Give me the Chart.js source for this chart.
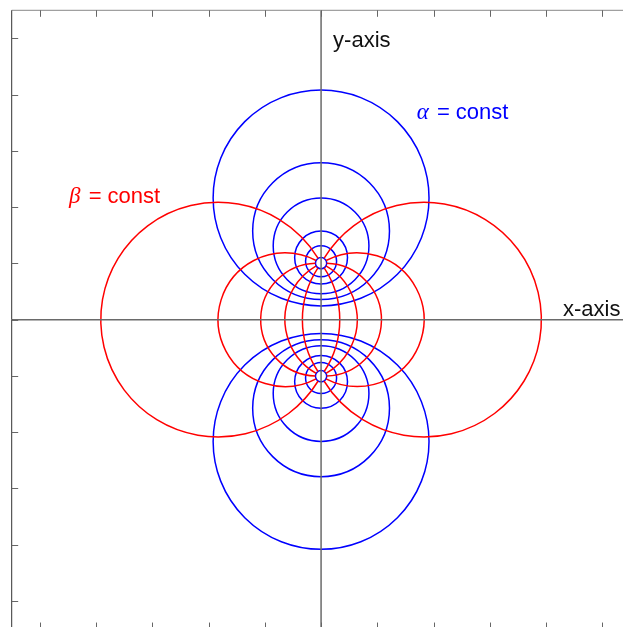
<!DOCTYPE html>
<html>
<head>
<meta charset="utf-8">
<script src="https://cdn.jsdelivr.net/npm/chart.js@4/dist/chart.umd.min.js"></script>
<style>
    html, body { margin: 0; padding: 0; overflow: hidden; background: #fff; }
    #wrap { position: absolute; left: 0; top: 0; width: 642px; height: 641px; }
</style>
</head>
<body>
<div id="wrap"><canvas id="bipolarChart"></canvas></div>
<script>
// bipolar coordinates, foci at (0, 1) and (0, -1)

const axisRange = [-5.5, 5.5];
const tickValues = [-5, -4, -3, -2, -1, 0, 1, 2, 3, 4, 5];
const alphaValues = [0.5, 0.75, 1, 1.5, 2, 3];   // alpha = const, full circles round each focus
const betaValues = [0.5, 1, 1.5, 2, 2.5];        // beta = const, arcs between the foci
const focusDistance = 1;

const bipolarPlugin = {
    id: 'bipolar',
    beforeDatasetsDraw(chart) {
        const ctx = chart.ctx;
        const xs = chart.scales.x;
        const ys = chart.scales.y;
        const area = chart.chartArea;
        const px = v => xs.getPixelForValue(v);
        const py = v => ys.getPixelForValue(v);
        const a = focusDistance;
        const alphaMax = Math.max(...alphaValues);

        ctx.save();
        ctx.beginPath();
        ctx.rect(area.left, area.top, area.right - area.left, area.bottom - area.top);
        ctx.clip();

        // alpha circles: centre (0, ±a coth α), radius a / sinh α
        ctx.strokeStyle = '#0000ff';
        ctx.lineWidth = 1.5;
        alphaValues.forEach(al => {
            [1, -1].forEach(sign => {
                const cy = sign * a / Math.tanh(al);
                const r = a / Math.sinh(al);
                ctx.beginPath();
                ctx.ellipse(px(0), py(cy), px(r) - px(0), py(0) - py(r), 0, 0, Math.PI * 2);
                ctx.stroke();
            });
        });

        // beta arcs: centre (a cot β, 0), radius a / sin β, stopped at the innermost alpha circle
        ctx.strokeStyle = '#ff0000';
        betaValues.forEach(be => {
            const c = a / Math.tan(be);
            const r = a / Math.sin(be);
            const d = Math.cosh(alphaMax) - Math.cos(be);
            const ex = a * Math.sin(be) / d;
            const ey = a * Math.sinh(alphaMax) / d;
            const phi = Math.atan2(ey, ex - c);
            const rx = px(r) - px(0);
            const ry = py(0) - py(r);
            ctx.beginPath();
            ctx.ellipse(px(c), py(0), rx, ry, 0, -phi, phi, false);
            ctx.stroke();
            ctx.beginPath();
            ctx.ellipse(px(-c), py(0), rx, ry, 0, Math.PI - phi, Math.PI + phi, false);
            ctx.stroke();
        });

        // x and y axes through the origin
        ctx.strokeStyle = '#6a6a6a';
        ctx.lineWidth = 1.5;
        ctx.beginPath();
        ctx.moveTo(area.left, py(0));
        ctx.lineTo(area.right, py(0));
        ctx.moveTo(px(0), area.top);
        ctx.lineTo(px(0), area.bottom);
        ctx.stroke();
        ctx.restore();

        // frame with inward ticks
        ctx.save();
        ctx.lineWidth = 1;
        ctx.strokeStyle = '#888';
        ctx.beginPath();
        ctx.moveTo(area.left, area.top);
        ctx.lineTo(area.right, area.top);
        ctx.lineTo(area.right, area.bottom);
        ctx.lineTo(area.left, area.bottom);
        ctx.stroke();
        ctx.strokeStyle = '#333';
        ctx.beginPath();
        ctx.moveTo(area.left, area.top);
        ctx.lineTo(area.left, area.bottom);
        ctx.stroke();

        const len = 6.5;
        ctx.strokeStyle = '#666';
        ctx.beginPath();
        tickValues.forEach(v => {
            const x = Math.round(px(v)) + 0.5;
            const y = Math.round(py(v)) + 0.5;
            ctx.moveTo(x, area.top);
            ctx.lineTo(x, area.top + len);
            ctx.moveTo(x, area.bottom);
            ctx.lineTo(x, area.bottom - len);
            ctx.moveTo(area.left, y);
            ctx.lineTo(area.left + len, y);
            ctx.moveTo(area.right, y);
            ctx.lineTo(area.right - len, y);
        });
        ctx.stroke();
        ctx.restore();

        // labels
        ctx.save();
        ctx.textBaseline = 'alphabetic';
        ctx.textAlign = 'left';
        const sans = '22px "Liberation Sans", Arial, sans-serif';
        const greek = 'italic 23px "Liberation Serif", "DejaVu Serif", serif';

        ctx.fillStyle = '#111';
        ctx.font = sans;
        ctx.fillText('y-axis', px(0) + 12, py(5.5) + 37);
        ctx.fillText('x-axis', px(4.3), py(0) - 4);

        const mathLabel = (sym, x, y, color) => {
            ctx.fillStyle = color;
            ctx.font = greek;
            ctx.fillText(sym, x, y);
            const w = ctx.measureText(sym).width;
            ctx.font = sans;
            ctx.fillText(' = const', x + w + 2, y);
        };
        mathLabel('\u03b1', px(1.70), py(3.56), '#0000ff');
        mathLabel('\u03b2', px(-4.48), py(2.07), '#ff0000');
        ctx.restore();
    }
};

const ctx = document.getElementById('bipolarChart').getContext('2d');
new Chart(ctx, {
    type: 'scatter',
    data: { datasets: [] },
    options: {
        responsive: true,
        maintainAspectRatio: false,
        animation: false,
        events: [],
        layout: {
            padding: { left: 11.7, top: 10.3, right: 11.55, bottom: 11.95 }
        },
        plugins: {
            legend: { display: false },
            tooltip: { enabled: false }
        },
        scales: {
            x: { type: 'linear', min: axisRange[0], max: axisRange[1], display: false },
            y: { type: 'linear', min: axisRange[0], max: axisRange[1], display: false }
        }
    },
    plugins: [bipolarPlugin]
});
</script>
</body>
</html>
